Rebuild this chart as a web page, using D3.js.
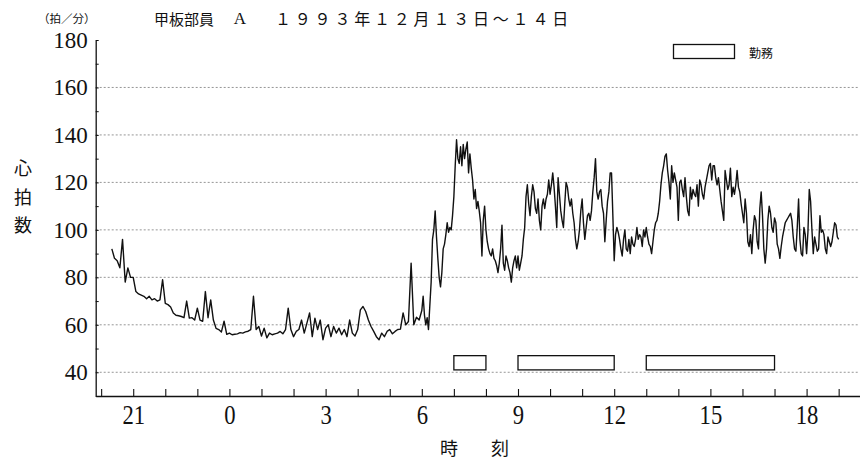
<!DOCTYPE html>
<html>
<head>
<meta charset="utf-8">
<script src="https://cdn.jsdelivr.net/npm/d3@7"></script>
<style>
body { margin: 0; background: #fff; }
svg { display: block; }
.cjk { font-family: "Noto Sans CJK JP", sans-serif; fill: #111; }
.num { font-family: "Liberation Serif", "DejaVu Serif", serif; fill: #111; }
</style>
</head>
<body>
<svg id="chart" width="868" height="461"></svg>
<script>
// heart rate (beats/min), readings spread evenly over each hour
// hour 20 = 20:00 on the 13th, hour 24 = 0:00 on the 14th
let rate20 = [null, null, null, null, 92, 88, 87, 84, 96, 78, 84, 80];
let rate21 = [80, 74, 73, 72.5, 72, 71, 72, 70.5, 71, 70, 70.5, 79];
let rate22 = [69, 68.5, 67.5, 65, 64, 63.8, 63.5, 63, 70, 62.8, 63, 62];
let rate23 = [67, 62, 61.5, 74, 63, 70.5, 62, 58.5, 58, 57, 61.5, 56];
let rate24 = [56.5, 55.8, 56, 56.2, 56.7, 56.5, 57, 57.3, 58, 72, 58, 59.3];
let rate25 = [55.3, 58.6, 54.5, 56.5, 55.8, 56.2, 56.5, 57.2, 56.2, 58, 67, 58];
let rate26 = [55, 57.2, 58, 62, 56.5, 60.7, 65, 55, 62.8, 58, 62, 53.7];
let rate27 = [58.6, 60, 55, 59.3, 56.5, 58.6, 55.8, 58, 55, 62, 56.5, 55.3];
let rate28 = [58, 66.3, 67.7, 65.6, 62, 59.3, 57.2, 55, 53.7, 56.5, 55, 57.2];
let rate29 = [58, 56.2, 57.2, 58, 58.2, 65, 60, 61.4, 86, 60, 63.2, 62];
let rate30 = [66, 72, 64, 60, 63, 58, 68, 78, 96, 100, 108, 97, 88, 80, 76, 82, 92, 94, 98, 103, 99, 101, 100, 106];
let rate31 = [114, 127, 138, 130, 128, 135, 127, 136, 130, 134, 137, 124, 132, 126, 121, 113, 117, 109, 112, 108, 103, 89, 104, 110];
let rate32 = [100, 95, 92, 90, 89, 92, 88, 87, 85, 82, 86, 92, 102, 86, 83, 89, 87, 84, 82, 78, 84, 87, 89, 84];
let rate33 = [89, 83, 86, 89, 96, 101, 114, 119, 111, 106, 114, 119, 116, 109, 107, 113, 104, 100, 110, 113, 109, 113, 115, 121];
let rate34 = [115, 119, 124, 118, 110, 101, 122, 115, 108, 104, 101, 111, 120, 118, 113, 110, 113, 107, 103, 96, 92, 95, 100, 108];
let rate35 = [113, 103, 96, 101, 106, 107, 104, 108, 116, 122, 130, 116, 113, 116, 117, 110, 107, 95, 104, 112, 116, 124, 124, 106];
let rate36 = [87, 98, 101, 99, 96, 92, 89, 96, 100, 92, 91, 96, 90, 97, 94, 93, 96, 101, 96, 98, 97, 93, 100, 97];
let rate37 = [101, 97, 94, 93, 90, 95, 100, 103, 104, 107, 112, 119, 124, 127, 131, 132, 125, 120, 113, 127, 120, 124, 121, 118];
let rate38 = [104, 120, 121, 117, 114, 122, 114, 108, 106, 118, 113, 117, 115, 114, 119, 110, 121, 119, 115, 113, 118, 121, 124, 127];
let rate39 = [128, 121, 127, 127, 122, 119, 122, 117, 112, 108, 104, 125, 121, 117, 119, 126, 114, 118, 115, 119, 125, 118, 116, 111];
let rate40 = [107, 103, 113, 107, 95, 93, 98, 90, 100, 106, 104, 95, 92, 109, 116, 106, 92, 86, 92, 104, 110, 107, 101, 99];
let rate41 = [105, 103, 94, 92, 88, 93, 97, 100, 103, 104, 105, 106, 107, 104, 97, 92, 91, 101, 113, 96, 90, 89, 101, 98];
let rate42 = [90, 99, 117, 112, 100, 90, 97, 94, 91, 92, 106, 99, 100, 98, 92, 90, 97, 95, 93, 95, 99, 103, 102, 97];
let rate43 = [96];

let rateHours = [20, 21, 22, 23, 24, 25, 26, 27, 28, 29, 30, 31, 32, 33, 34, 35, 36, 37, 38, 39, 40, 41, 42, 43];
let rateBlocks = [rate20, rate21, rate22, rate23, rate24, rate25, rate26, rate27, rate28, rate29, rate30, rate31,
                  rate32, rate33, rate34, rate35, rate36, rate37, rate38, rate39, rate40, rate41, rate42, rate43];

// work periods on the 14th (clock hours)
let workStart = [7, 9, 13];
let workEnd = [8, 12, 17];

// axis ticks
let yTicks = [40, 60, 80, 100, 120, 140, 160, 180];
let yGrid = [40, 60, 80, 100, 120, 140, 160];
let yMinor = [30, 40, 50, 60, 70, 80, 90, 100, 110, 120, 130, 140, 150, 160, 170, 180];
let xTicks = [20, 21, 22, 23, 24, 25, 26, 27, 28, 29, 30, 31, 32, 33, 34, 35, 36, 37, 38, 39, 40, 41, 42, 43];
let xLabelled = [21, 24, 27, 30, 33, 36, 39, 42];

let chart = d3.select("#chart");

let x = d3.scaleLinear()
    .domain([19.83, 43.65])
    .range([95.7, 859.5]);

let y = d3.scaleLinear()
    .domain([30, 180])
    .range([396, 40]);

// flatten the hour blocks into points
let points = [];
rateBlocks.forEach(function(block, i) {
    block.forEach(function(v, k) {
        points.push({ t: rateHours[i] + k / block.length, v: v });
    });
});

// dotted grid lines
chart.selectAll(".grid")
    .data(yGrid)
    .enter()
    .append("line")
    .attr("class", "grid")
    .attr("x1", x(19.83))
    .attr("x2", x(43.6))
    .attr("y1", function(d) { return y(d); })
    .attr("y2", function(d) { return y(d); })
    .attr("stroke", "#8a8a8a")
    .attr("stroke-width", 0.9)
    .attr("stroke-dasharray", "2,2");

// x axis, ticks pointing up
let xAxis = d3.axisBottom(x)
    .tickValues(xTicks)
    .tickSizeInner(-7)
    .tickSizeOuter(0)
    .tickPadding(9)
    .tickFormat(function(d) { return xLabelled.indexOf(d) >= 0 ? String(d % 24) : ""; });

let xAxisGroup = chart.append("g")
    .attr("transform", "translate(0," + y(30) + ")")
    .call(xAxis);
xAxisGroup.select(".domain").attr("stroke", "#111").attr("stroke-width", 1.3);
xAxisGroup.selectAll(".tick line").attr("stroke", "#111").attr("stroke-width", 1.1);
xAxisGroup.selectAll(".tick text")
    .attr("class", "num")
    .style("font-size", "27px")
    .attr("transform", "scale(0.84,1)")
    .attr("fill", "#111");

// y axis: small inner ticks every 10
let yMinorAxis = d3.axisLeft(y)
    .tickValues(yMinor)
    .tickSizeInner(-3)
    .tickSizeOuter(0)
    .tickFormat("");
let yMinorGroup = chart.append("g")
    .attr("transform", "translate(" + x(19.83) + ",0)")
    .call(yMinorAxis);
yMinorGroup.select(".domain").attr("stroke", "#111").attr("stroke-width", 1.3);
yMinorGroup.selectAll(".tick line").attr("stroke", "#111");

// y axis labels
let yAxis = d3.axisLeft(y)
    .tickValues(yTicks)
    .tickSize(0)
    .tickPadding(8);
let yAxisGroup = chart.append("g")
    .attr("transform", "translate(" + x(19.83) + ",0)")
    .call(yAxis);
yAxisGroup.select(".domain").remove();
yAxisGroup.selectAll(".tick text")
    .attr("class", "num")
    .style("font-size", "23px")
    .attr("fill", "#111");

// work bars
chart.selectAll(".work")
    .data(workStart)
    .enter()
    .append("rect")
    .attr("class", "work")
    .attr("x", function(d) { return x(24 + d); })
    .attr("y", y(47))
    .attr("width", function(d, i) { return x(24 + workEnd[i]) - x(24 + d); })
    .attr("height", y(41) - y(47))
    .attr("fill", "#fff")
    .attr("stroke", "#111")
    .attr("stroke-width", 1.3);

// heart rate line
chart.append("path")
    .datum(points)
    .attr("fill", "none")
    .attr("stroke", "#111")
    .attr("stroke-width", 1.4)
    .attr("stroke-linejoin", "round")
    .attr("d", d3.line()
        .defined(function(d) { return d.v != null; })
        .x(function(d) { return x(d.t); })
        .y(function(d) { return y(d.v); })
    );

// legend
chart.append("rect")
    .attr("x", 673.5)
    .attr("y", 44.5)
    .attr("width", 61)
    .attr("height", 14)
    .attr("fill", "#fff")
    .attr("stroke", "#111")
    .attr("stroke-width", 1.3);
chart.append("text")
    .attr("class", "cjk")
    .attr("x", 749)
    .attr("y", 52)
    .attr("dominant-baseline", "central")
    .style("font-size", "12px")
    .text("勤務");

// titles
chart.append("text")
    .attr("class", "cjk")
    .attr("x", 38)
    .attr("y", 18)
    .attr("dominant-baseline", "central")
    .style("font-size", "11.5px")
    .text("（拍／分）");

chart.append("text")
    .attr("class", "cjk")
    .attr("x", 154)
    .attr("y", 18)
    .attr("dominant-baseline", "central")
    .style("font-size", "15px")
    .text("甲板部員");

chart.append("text")
    .attr("class", "num")
    .attr("x", 240)
    .attr("y", 18)
    .attr("dominant-baseline", "central")
    .attr("text-anchor", "middle")
    .style("font-size", "17px")
    .text("A");

chart.append("text")
    .attr("class", "cjk")
    .attr("x", 275)
    .attr("y", 18)
    .attr("dominant-baseline", "central")
    .style("font-size", "16px")
    .style("letter-spacing", "3.8px")
    .text("１９９３年１２月１３日～１４日");

// y axis title, stacked
chart.selectAll(".ytitle")
    .data(["心", "拍", "数"])
    .enter()
    .append("text")
    .attr("class", "cjk")
    .attr("x", 23)
    .attr("y", function(d, i) { return 167 + i * 28.5; })
    .attr("text-anchor", "middle")
    .attr("dominant-baseline", "central")
    .style("font-size", "18px")
    .text(function(d) { return d; });

// x axis title
chart.selectAll(".xtitle")
    .data(["時", "刻"])
    .enter()
    .append("text")
    .attr("class", "cjk")
    .attr("x", function(d, i) { return 449 + i * 51; })
    .attr("y", 447)
    .attr("text-anchor", "middle")
    .attr("dominant-baseline", "central")
    .style("font-size", "18px")
    .text(function(d) { return d; });
</script>
</body>
</html>
